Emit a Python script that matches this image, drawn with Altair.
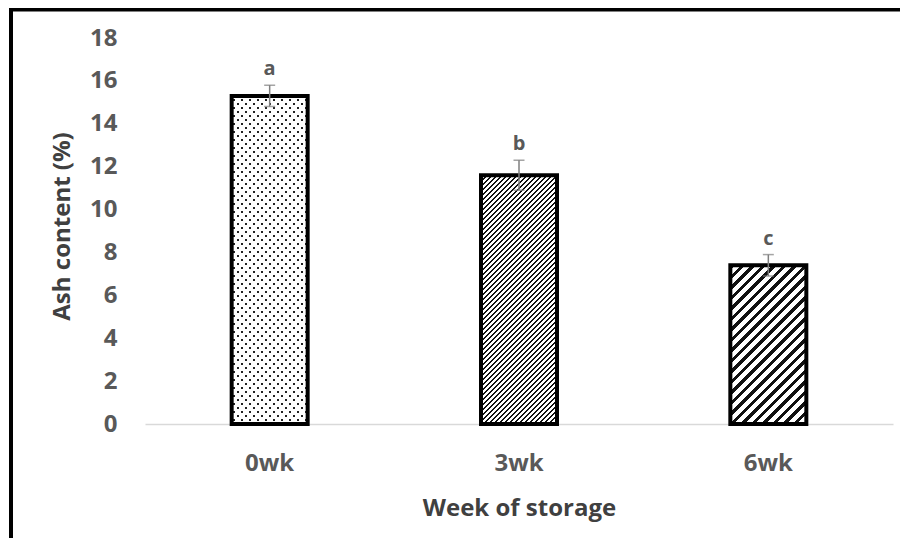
import altair as alt
import pandas as pd

# ---- data ----
weeks = ["0wk", "3wk", "6wk"]
ash = [15.3, 11.6, 7.4]
err = [0.5, 0.7, 0.5]
letters = ["a", "b", "c"]
y_ticks = [0, 2, 4, 6, 8, 10, 12, 14, 16, 18]

df = pd.DataFrame({"week": weeks, "ash": ash, "err": err, "letter": letters})

# ---- layout / style constants ----
PLOT_W, PLOT_H = 748, 386
Y_MAX = 18
BAR_W = 76
FONT = "Open Sans"
LABEL_COLOR = "#595959"
TITLE_COLOR = "#404040"


def stripes(h, w, period, dark_frac, dark, light, direction):
    """Linear gradient (objectBoundingBox) that draws 45-degree stripes."""
    denom = w * w + h * h
    if direction == "/":
        s_min, s_max = 0.0, w + h
        to_t = lambda s: s * w / denom
        x1, y1, x2, y2 = 0, 0, 1, h / w
    else:
        s_min, s_max = -h, w
        to_t = lambda s: (s * w + h * h) / denom
        x1, y1, x2, y2 = 0, h / w, 1, 0
    stops = []
    s = s_min - period
    while s < s_max + period:
        a = to_t(s)
        b = to_t(s + dark_frac * period)
        c = to_t(s + period)
        for off, col in ((a, dark), (b, dark), (b, light), (c, light)):
            off = min(max(off, 0.0), 1.0)
            stops.append({"offset": round(off, 6), "color": col})
        s += period
    return {"gradient": "linear", "x1": x1, "y1": y1, "x2": x2, "y2": y2,
            "stops": stops}


def px_height(v):
    return v / Y_MAX * PLOT_H


h0, h3, h6 = (px_height(v) for v in ash)
clear = "rgba(255,255,255,0)"
dots_a = stripes(h0, BAR_W, 8, 0.63, "#ffffff", clear, "/")
dots_b = stripes(h0, BAR_W, 8, 0.63, "#ffffff", clear, "\\")
hatch3 = stripes(h3, BAR_W, 5, 0.55, "#111111", "#ffffff", "/")
hatch6 = stripes(h6, BAR_W, 10.5, 0.42, "#111111", "#ffffff", "/")

x_enc = alt.X(
    "week:N",
    sort=weeks,
    scale=alt.Scale(domain=weeks, paddingInner=0, paddingOuter=0),
    axis=alt.Axis(
        title="Week of storage",
        labelAngle=0,
        labelFontSize=24,
        labelFontWeight="bold",
        labelColor=LABEL_COLOR,
        labelFont=FONT,
        labelBaseline="alphabetic",
        labelPadding=46,
        ticks=False,
        domainColor="#d9d9d9",
        domainWidth=1.5,
        titleFontSize=24,
        titleFontWeight="bold",
        titleColor=TITLE_COLOR,
        titleFont=FONT,
        titleBaseline="alphabetic",
        titleY=91,
    ),
)

y_axis = alt.Axis(
    title="Ash content (%)",
    values=y_ticks,
    grid=False,
    domain=False,
    ticks=False,
    labelFontSize=24,
    labelFontWeight="bold",
    labelColor=LABEL_COLOR,
    labelFont=FONT,
    labelPadding=28,
    titleFontSize=24,
    titleFontWeight="bold",
    titleColor=TITLE_COLOR,
    titleFont=FONT,
    titleBaseline="alphabetic",
    titleX=-76,
    titleY=188,
)
y_scale = alt.Scale(domain=[0, Y_MAX], nice=False)

base = alt.Chart(df).transform_calculate(
    lo="datum.ash - datum.err", hi="datum.ash + datum.err"
)


def bar_layer(week, **mark):
    return base.transform_filter(alt.datum.week == week).mark_bar(
        width=BAR_W, **mark
    ).encode(x=x_enc, y=alt.Y("ash:Q", scale=y_scale, axis=y_axis))


layers = [
    bar_layer("0wk", fill="#222222"),
    bar_layer("0wk", fill=dots_a),
    bar_layer("0wk", fill=dots_b),
    bar_layer("3wk", fill=hatch3),
    bar_layer("6wk", fill=hatch6),
    base.mark_bar(width=BAR_W, fillOpacity=0, stroke="black", strokeWidth=4,
                  strokeJoin="miter").encode(
        x=x_enc, y=alt.Y("ash:Q", scale=y_scale, axis=y_axis)),
    base.mark_rule(color="#7f7f7f", strokeWidth=1.5).encode(
        x=x_enc, y=alt.Y("lo:Q", scale=y_scale, axis=y_axis), y2="hi:Q"),
    base.mark_tick(orient="horizontal", size=11, thickness=1.5,
                   color="#7f7f7f").encode(
        x=x_enc, y=alt.Y("hi:Q", scale=y_scale, axis=y_axis)),
    base.mark_tick(orient="horizontal", size=11, thickness=1.5,
                   color="#7f7f7f").encode(
        x=x_enc, y=alt.Y("lo:Q", scale=y_scale, axis=y_axis)),
    base.mark_text(dy=-10, baseline="alphabetic", fontSize=20,
                   fontWeight="bold", font=FONT, color=LABEL_COLOR).encode(
        x=x_enc, y=alt.Y("hi:Q", scale=y_scale, axis=y_axis), text="letter:N"),
]

frame_df = pd.DataFrame({"k": [0]})
frame = [
    alt.Chart(frame_df).mark_rule(color="black", strokeWidth=4).encode(
        x=alt.value(-134), y=alt.value(-30), y2=alt.value(600)),
    alt.Chart(frame_df).mark_rule(color="black", strokeWidth=4).encode(
        x=alt.value(-136), x2=alt.value(800), y=alt.value(-28.5)),
]

chart = alt.layer(*layers, *frame).properties(
    width=PLOT_W,
    height=PLOT_H,
    padding={"left": 137, "top": 30, "right": 7, "bottom": 114},
    autosize=alt.AutoSizeParams(type="none"),
    background="white",
).configure_view(stroke=None)

chart.save("out.html", embed_options={"renderer": "svg", "actions": False})
